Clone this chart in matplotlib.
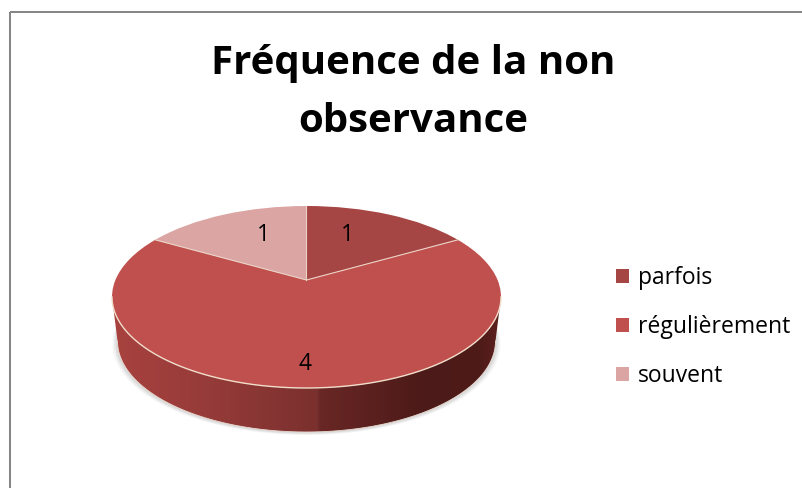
import numpy as np
import matplotlib
matplotlib.use("Agg")
import matplotlib.pyplot as plt
from matplotlib.colors import LinearSegmentedColormap
from matplotlib.patches import PathPatch, Rectangle
from matplotlib.path import Path
from matplotlib.transforms import Transform

title = "Fréquence de la non\nobservance"
categories = ["parfois", "régulièrement", "souvent"]
values = [1, 4, 1]
colors = ["#A64644", "#C0504D", "#DBA5A4"]

W, H = 803, 488
plt.rcParams["font.family"] = ["Open Sans", "DejaVu Sans"]
fig = plt.figure(figsize=(W / 100, H / 100), dpi=100, facecolor="white")
ax = fig.add_axes([0, 0, 1, 1])

CX, CY, RX, RY = 306.5, 297.0, 194.5, 91.0
APEX = 17.0


class Persp(Transform):
    """Projects the unit disc to the tilted pie top, in pixel coordinates."""
    input_dims = output_dims = 2
    is_affine = False
    has_inverse = False

    def transform_non_affine(self, xy):
        xy = np.asarray(xy, float)
        c = APEX / RY
        w = 1 + c * xy[:, 1]
        d = RX * np.sqrt(1 - c ** 2)
        return np.column_stack([CX + d * xy[:, 0] / w,
                                CY - (RY * xy[:, 1] + APEX) / w])


persp = Persp()

wedges, _ = ax.pie(values, colors=colors, startangle=90, counterclock=False,
                   radius=1, center=(0, 0), frame=True,
                   wedgeprops=dict(linewidth=0))
for w in wedges:
    w.set_transform(persp + ax.transData)
    w.set_zorder(5)

ax.set_aspect("auto")

# soft shadow beneath the pie
t = np.linspace(0, 2 * np.pi, 240)
for grow, alpha in [(5, .05), (3.5, .07), (2, .09)]:
    ax.fill(CX + (189 + grow) * np.cos(t), 341.5 + grow * .5 + 91 * np.sin(t),
            color="#555555", alpha=alpha, lw=0, zorder=1)

# extruded side: gradient clipped to the swept outline
th = np.linspace(0, np.pi, 200)
top_x, top_y = CX + RX * np.cos(th), CY + RY * np.sin(th)
bot_x, bot_y = CX + 189 * np.cos(th), 341 + 91 * np.sin(th)
verts = np.vstack([np.column_stack([top_x, top_y]),
                   np.column_stack([bot_x, bot_y])[::-1],
                   [[top_x[0], top_y[0]]]])
side = PathPatch(Path(verts), transform=ax.transData, fc="none", ec="none")
ax.add_patch(side)
cmap = LinearSegmentedColormap.from_list("side", [
    (0.00, "#A8423F"), (0.25, "#953B39"), (0.53, "#7A302E"), (0.535, "#692725"),
    (0.80, "#4C1A18"), (0.95, "#4E1B19"), (1.00, "#5C201E")])
img = ax.imshow(np.linspace(0, 1, 400)[None, :], cmap=cmap, aspect="auto",
                extent=(CX - RX, CX + RX, 440, 290), zorder=2)
img.set_clip_path(side)

# light rim and spokes
ax.plot(top_x, top_y, color="#F1DDCB", lw=1.0, zorder=6)
ax.plot(bot_x, bot_y, color="#E9D9CE", lw=0.6, zorder=3)
angles = np.pi / 2 - 2 * np.pi * np.cumsum(values) / sum(values)
for a in angles:
    sp = persp.transform(np.array([[0, 0], [np.cos(a), np.sin(a)]]))
    ax.plot(sp[:, 0], sp[:, 1], color="#EBD3C6", lw=0.8, zorder=6)

# value labels
for (px, py), v in zip([(347, 235), (305, 364), (263, 235)], values):
    ax.text(px, py, str(v), ha="center", va="center", fontsize=16.5,
            color="black", zorder=7)

# frame (runs off the right and bottom edges)
ax.add_patch(Rectangle((10, 12), W, H, fc="none", ec="#868686", lw=1.45, zorder=0))

ax.text(413, 44, title, ha="center", va="top", fontsize=29, fontweight="bold",
        color="black", linespacing=1.62, multialignment="center")

leg = ax.legend(wedges, categories, loc="upper left",
                bbox_to_anchor=(616 / W, 1 - 266 / H), frameon=False,
                fontsize=16.5, handlelength=0.55, handleheight=0.55,
                handletextpad=0.39, labelspacing=1.09, borderpad=0, borderaxespad=0)

ax.set_xlim(0, W)
ax.set_ylim(H, 0)
ax.set_xticks([])
ax.set_yticks([])
ax.set_frame_on(False)

fig.savefig("out.png", dpi=100, facecolor="white")
